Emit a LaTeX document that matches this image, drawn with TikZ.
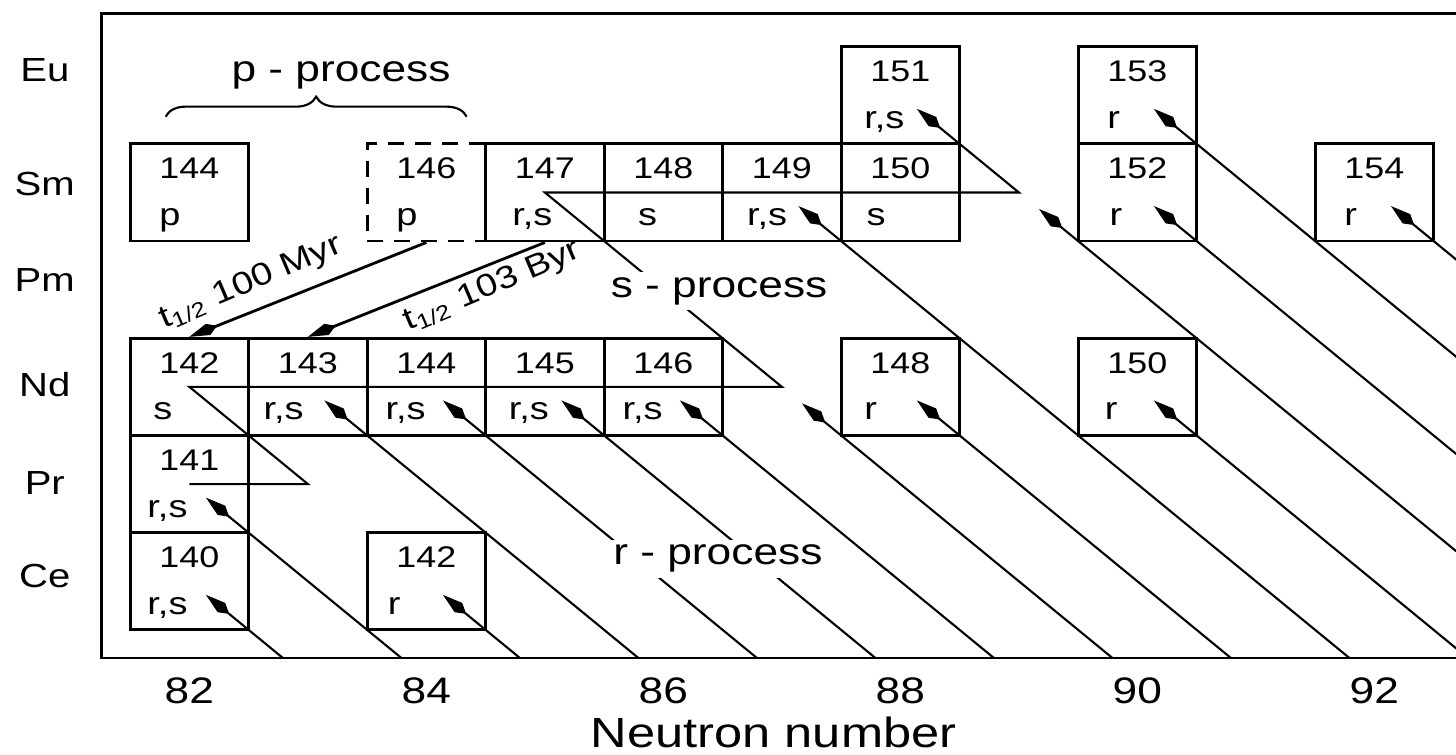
\documentclass[tikz,border=0pt]{standalone}
\usepackage{fontspec}
\setmainfont{Liberation Sans}[FakeStretch=1.2]
\usetikzlibrary{arrows.meta, calc, decorations.pathreplacing}
\tikzstyle{cell}=[draw, thick, minimum width=1.185cm, minimum height=0.972cm, inner sep=0pt]
\tikzstyle{pcell}=[cell, dash pattern=on 1.6mm off 1.1mm]
\tikzstyle{mass}=[anchor=base, inner sep=0pt, font=\fontsize{8.5}{10}\selectfont]
\tikzstyle{proc}=[anchor=base west, inner sep=0pt, font=\fontsize{9}{11}\selectfont]
\tikzstyle{elem}=[anchor=base, inner sep=0pt, font=\fontsize{9.5}{11}\selectfont]
\tikzstyle{ticklab}=[anchor=base, inner sep=0pt, font=\fontsize{10.5}{12}\selectfont]
\tikzstyle{process}=[anchor=base, fill=white, inner sep=1.5pt, font=\fontsize{10.5}{12}\selectfont]
\tikzstyle{tlab}=[rotate=23, inner sep=0pt, font=\fontsize{9}{11}\selectfont]
\tikzstyle{rline}=[semithick, -{Kite[length=3mm, width=1.2mm, inset=1mm]}]
\tikzstyle{adecay}=[thick, -{Kite[length=3mm, width=1.2mm, inset=1mm]}]

\begin{document}
\begin{tikzpicture}[x=1.185cm, y=0.972cm]
    \useasboundingbox (80.403,56.223) rectangle (92.690,63.981);
    \clip (80.403,56.223) rectangle (92.690,63.981);
    \draw[thick] (93,63.84) -- (81.26,63.84) -- (81.26,57.21) -- (93,57.21);
    % nuclides at (N,Z)
    \node[cell] (Eu151) at (88,63) {};
    \node[cell] (Eu153) at (90,63) {};
    \node[cell] (Sm144) at (82,62) {};
    \node[pcell] (Sm146) at (84,62) {};
    \node[cell] (Sm147) at (85,62) {};
    \node[cell] (Sm148) at (86,62) {};
    \node[cell] (Sm149) at (87,62) {};
    \node[cell] (Sm150) at (88,62) {};
    \node[cell] (Sm152) at (90,62) {};
    \node[cell] (Sm154) at (92,62) {};
    \node[cell] (Nd142) at (82,60) {};
    \node[cell] (Nd143) at (83,60) {};
    \node[cell] (Nd144) at (84,60) {};
    \node[cell] (Nd145) at (85,60) {};
    \node[cell] (Nd146) at (86,60) {};
    \node[cell] (Nd148) at (88,60) {};
    \node[cell] (Nd150) at (90,60) {};
    \node[cell] (Pr141) at (82,59) {};
    \node[cell] (Ce140) at (82,58) {};
    \node[cell] (Ce142) at (84,58) {};
    \node[mass] (nEu151) at ($(Eu151)+(0,.14)$) {151};
    \node[mass] (nEu153) at ($(Eu153)+(0,.14)$) {153};
    \node[mass] (nSm144) at ($(Sm144)+(0,.14)$) {144};
    \node[mass] (nSm146) at ($(Sm146)+(0,.14)$) {146};
    \node[mass] (nSm147) at ($(Sm147)+(0,.14)$) {147};
    \node[mass] (nSm148) at ($(Sm148)+(0,.14)$) {148};
    \node[mass] (nSm149) at ($(Sm149)+(0,.14)$) {149};
    \node[mass] (nSm150) at ($(Sm150)+(0,.14)$) {150};
    \node[mass] (nSm152) at ($(Sm152)+(0,.14)$) {152};
    \node[mass] (nSm154) at ($(Sm154)+(0,.14)$) {154};
    \node[mass] (nNd142) at ($(Nd142)+(0,.14)$) {142};
    \node[mass] (nNd143) at ($(Nd143)+(0,.14)$) {143};
    \node[mass] (nNd144) at ($(Nd144)+(0,.14)$) {144};
    \node[mass] (nNd145) at ($(Nd145)+(0,.14)$) {145};
    \node[mass] (nNd146) at ($(Nd146)+(0,.14)$) {146};
    \node[mass] (nNd148) at ($(Nd148)+(0,.14)$) {148};
    \node[mass] (nNd150) at ($(Nd150)+(0,.14)$) {150};
    \node[mass] (nPr141) at ($(Pr141)+(0,.14)$) {141};
    \node[mass] (nCe140) at ($(Ce140)+(0,.14)$) {140};
    \node[mass] (nCe142) at ($(Ce142)+(0,.14)$) {142};
    \node[proc] (pEu151) at ($(Eu151)+(-.31,-.34)$) {r,s};
    \node[proc] (pEu153) at ($(Eu153)+(-.26,-.34)$) {r};
    \node[proc] (pSm144) at ($(Sm144)+(-.26,-.34)$) {p};
    \node[proc] (pSm146) at ($(Sm146)+(-.26,-.34)$) {p};
    \node[proc] (pSm147) at ($(Sm147)+(-.28,-.34)$) {r,s};
    \node[proc] (pSm148) at ($(Sm148)+(-.22,-.34)$) {s};
    \node[proc] (pSm149) at ($(Sm149)+(-.30,-.34)$) {r,s};
    \node[proc] (pSm150) at ($(Sm150)+(-.29,-.34)$) {s};
    \node[proc] (pSm152) at ($(Sm152)+(-.24,-.34)$) {r};
    \node[proc] (pSm154) at ($(Sm154)+(-.26,-.34)$) {r};
    \node[proc] (pNd142) at ($(Nd142)+(-.31,-.34)$) {s};
    \node[proc] (pNd143) at ($(Nd143)+(-.38,-.34)$) {r,s};
    \node[proc] (pNd144) at ($(Nd144)+(-.35,-.34)$) {r,s};
    \node[proc] (pNd145) at ($(Nd145)+(-.31,-.34)$) {r,s};
    \node[proc] (pNd146) at ($(Nd146)+(-.35,-.34)$) {r,s};
    \node[proc] (pNd148) at ($(Nd148)+(-.31,-.34)$) {r};
    \node[proc] (pNd150) at ($(Nd150)+(-.28,-.34)$) {r};
    \node[proc] (pPr141) at ($(Pr141)+(-.36,-.34)$) {r,s};
    \node[proc] (pCe140) at ($(Ce140)+(-.36,-.34)$) {r,s};
    \node[proc] (pCe142) at ($(Ce142)+(-.33,-.34)$) {r};
    % r-process isobars, from the frame to the stable isobar
    \coordinate (a140) at (82.79,57.21);
    \coordinate (a141) at (83.79,57.21);
    \coordinate (a142) at (84.79,57.21);
    \coordinate (a143) at (85.79,57.21);
    \coordinate (a144) at (86.79,57.21);
    \coordinate (a145) at (87.79,57.21);
    \coordinate (a146) at (88.79,57.21);
    \coordinate (a147) at (89.79,57.21);
    \coordinate (a148) at (90.79,57.21);
    \coordinate (a149) at (91.79,57.21);
    \coordinate (a150) at (92.79,57.21);
    \coordinate (a151) at (93.79,57.21);
    \coordinate (a152) at (94.79,57.21);
    \coordinate (a153) at (95.79,57.21);
    \coordinate (a154) at (96.79,57.21);
    \coordinate (k142) at (83,59);
    \coordinate (k147) at (87,60);
    \coordinate (k151) at (89,62);
    \draw[rline] (a140) -- ($(Ce140)+(.14,-.14)$);
    \draw[rline] (a141) -- ($(Pr141)+(.14,-.14)$);
    \draw[rline] (a142) -- ($(Ce142)+(.14,-.14)$);
    \draw[rline] (a143) -- ($(Nd143)+(.14,-.14)$);
    \draw[rline] (a144) -- ($(Nd144)+(.14,-.14)$);
    \draw[rline] (a145) -- ($(Nd145)+(.14,-.14)$);
    \draw[rline] (a146) -- ($(Nd146)+(.14,-.14)$);
    \draw[rline] (a147) -- ($(k147)+(.17,-.17)$);
    \draw[rline] (a148) -- ($(Nd148)+(.14,-.14)$);
    \draw[rline] (a149) -- ($(Sm149)+(.14,-.14)$);
    \draw[rline] (a150) -- ($(Nd150)+(.14,-.14)$);
    \draw[rline] (a151) -- ($(k151)+(.17,-.17)$);
    \draw[rline] (a152) -- ($(Sm152)+(.14,-.14)$);
    \draw[rline] (a153) -- ($(Eu153)+(.14,-.14)$);
    \draw[rline] (a154) -- ($(Sm154)+(.14,-.14)$);
    % s-process path
    \draw[rline] (Pr141.center) -- (k142) -- (Nd142.center) -- (k147) -- (Sm147.center) -- (k151) -- ($(Eu151)+(.14,-.14)$);
    % alpha decays
    \draw[adecay] (Sm146.south) -- (Nd142.north);
    \draw[adecay] (Sm147.south) -- (Nd143.north);
    \node[tlab] (t146) at (82.52,61.07) {t\textsubscript{1/2} 100 Myr};
    \node[tlab] (t147) at (84.56,61.03) {t\textsubscript{1/2} 103 Byr};
    \draw[semithick, decorate, decoration={brace, amplitude=2mm}] (81.8,62.78) -- (84.34,62.78);
    \node[process] (pproc) at (83.28,63.14) {p - process};
    \node[process] (sproc) at (86.47,60.92) {s - process};
    \node[process] (rproc) at (86.46,58.17) {r - process};
    % axes
    \node[elem] (lEu) at (80.78,63.14) {Eu};
    \node[elem] (lSm) at (80.78,61.97) {Sm};
    \node[elem] (lPm) at (80.78,60.98) {Pm};
    \node[elem] (lNd) at (80.78,59.90) {Nd};
    \node[elem] (lPr) at (80.78,58.89) {Pr};
    \node[elem] (lCe) at (80.78,57.94) {Ce};
    \node[ticklab] (n82) at (82,56.74) {82};
    \node[ticklab] (n84) at (84,56.74) {84};
    \node[ticklab] (n86) at (86,56.74) {86};
    \node[ticklab] (n88) at (88,56.74) {88};
    \node[ticklab] (n90) at (90,56.74) {90};
    \node[ticklab] (n92) at (92,56.74) {92};
    \node[ticklab, font=\fontsize{12}{14}\selectfont] (xlab) at (86.93,56.29) {Neutron number};
\end{tikzpicture}
\end{document}
